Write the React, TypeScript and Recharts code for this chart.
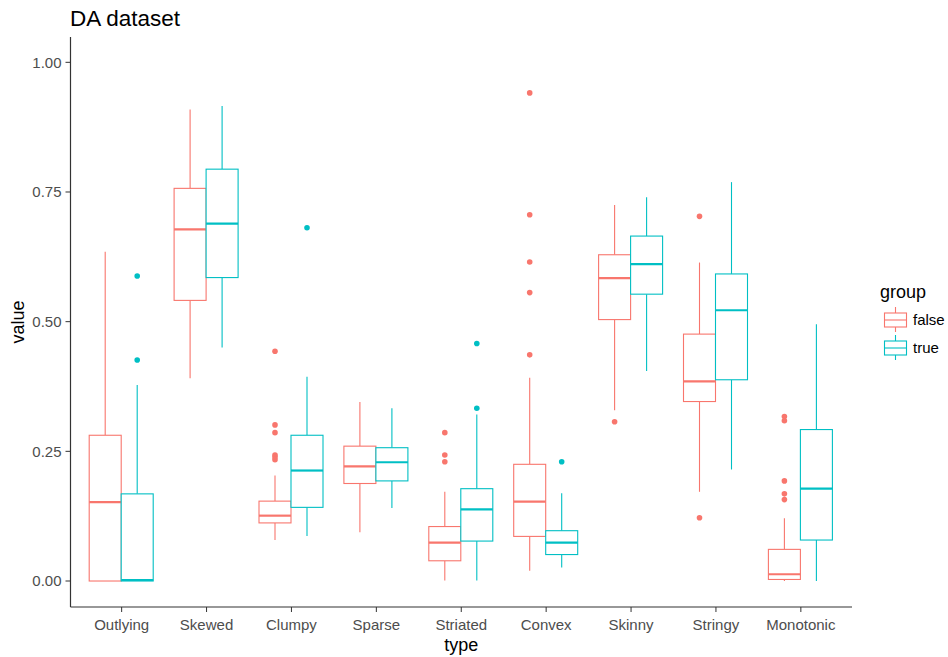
import { BarChart, Bar, XAxis, YAxis } from 'recharts';

const FONT = '"Liberation Sans", Arial, sans-serif';
const RED = '#F8766D';
const TEAL = '#00BFC4';

const categories = ['Outlying', 'Skewed', 'Clumpy', 'Sparse', 'Striated', 'Convex', 'Skinny', 'Stringy', 'Monotonic'];
const yTicks = [0, 0.25, 0.5, 0.75, 1];

// group = false
const falseLow = [0, 0.391, 0.079, 0.094, 0.001, 0.02, 0.329, 0.172, 0];
const falseQ1 = [0, 0.541, 0.112, 0.188, 0.039, 0.086, 0.504, 0.346, 0.003];
const falseMed = [0.152, 0.678, 0.126, 0.221, 0.074, 0.153, 0.584, 0.385, 0.013];
const falseQ3 = [0.281, 0.757, 0.154, 0.26, 0.105, 0.225, 0.629, 0.476, 0.061];
const falseHigh = [0.635, 0.909, 0.2035, 0.345, 0.172, 0.392, 0.725, 0.614, 0.121];
const falseOut = [
  [],
  [],
  [0.443, 0.301, 0.286, 0.243, 0.239, 0.234],
  [],
  [0.286, 0.243, 0.23],
  [0.941, 0.706, 0.615, 0.556, 0.436],
  [0.307],
  [0.703, 0.122],
  [0.317, 0.309, 0.193, 0.168, 0.157],
];

// group = true
const trueLow = [0, 0.45, 0.087, 0.141, 0.001, 0.026, 0.405, 0.215, 0];
const trueQ1 = [0, 0.585, 0.142, 0.193, 0.077, 0.051, 0.553, 0.388, 0.079];
const trueMed = [0.002, 0.689, 0.213, 0.229, 0.138, 0.074, 0.611, 0.522, 0.178];
const trueQ3 = [0.168, 0.794, 0.281, 0.257, 0.178, 0.097, 0.665, 0.592, 0.292];
const trueHigh = [0.378, 0.916, 0.394, 0.333, 0.321, 0.169, 0.74, 0.769, 0.495];
const trueOut = [[0.588, 0.426], [], [0.681], [], [0.458, 0.333], [0.23], [], [], []];

const rows = categories.map((type, i) => ({
  type,
  idx: i,
  f: [falseQ1[i], falseQ3[i]],
  t: [trueQ1[i], trueQ3[i]],
}));

type Stats = { low: number[]; q1: number[]; med: number[]; q3: number[]; high: number[]; out: number[][] };

const falseStats: Stats = { low: falseLow, q1: falseQ1, med: falseMed, q3: falseQ3, high: falseHigh, out: falseOut };
const trueStats: Stats = { low: trueLow, q1: trueQ1, med: trueMed, q3: trueQ3, high: trueHigh, out: trueOut };

// the bar gives the box (q1..q3); everything else is placed on the same linear scale
function boxShape(s: Stats, color: string) {
  return (props: any) => {
    const { x, y, width, height, payload } = props;
    const i = payload.idx;
    const top = Math.min(y, y + height);
    const h = Math.abs(height);
    const k = h / (s.q3[i] - s.q1[i]);
    const py = (v: number) => top + h - (v - s.q1[i]) * k;
    const cx = x + width / 2;
    return (
      <g>
        <line x1={cx} x2={cx} y1={py(s.q3[i])} y2={py(s.high[i])} stroke={color} strokeWidth={1.1} />
        <line x1={cx} x2={cx} y1={py(s.q1[i])} y2={py(s.low[i])} stroke={color} strokeWidth={1.1} />
        <rect x={x} y={top} width={width} height={h} fill="#fff" stroke={color} strokeWidth={1.1} />
        <line x1={x} x2={x + width} y1={py(s.med[i])} y2={py(s.med[i])} stroke={color} strokeWidth={2.2} />
        {s.out[i].map((v, j) => (
          <circle key={j} cx={cx} cy={py(v)} r={2.8} fill={color} />
        ))}
      </g>
    );
  };
}

function LegendKey({ y, color, label }: { y: number; color: string; label: string }) {
  return (
    <g>
      <line x1={895.5} x2={895.5} y1={y - 13} y2={y + 12} stroke={color} strokeWidth={1.1} />
      <rect x={884.5} y={y - 7} width={22} height={14} fill="#fff" stroke={color} strokeWidth={1.1} />
      <line x1={884.5} x2={906.5} y1={y} y2={y} stroke={color} strokeWidth={1.1} />
      <text x={913} y={y + 5} fontSize={15} fill="#000" fontFamily={FONT}>
        {label}
      </text>
    </g>
  );
}

export default function App() {
  return (
    <div style={{ position: 'relative', width: 948, height: 657, background: '#fff' }}>
      <style>{'body{margin:0}'}</style>
      <BarChart
        width={948}
        height={657}
        data={rows}
        margin={{ top: 37, right: 96, bottom: 0, left: 0 }}
        barGap={0}
      >
        <XAxis
          dataKey="type"
          height={50}
          padding={{ left: 8.7, right: 8.7 }}
          tick={{ fill: '#4d4d4d', fontSize: 15, fontFamily: FONT }}
          tickSize={5}
          tickMargin={7}
          tickLine={{ stroke: '#333' }}
          axisLine={{ stroke: '#333', strokeWidth: 1.2 }}
          label={{
            content: (p: any) => (
              <text
                x={p.viewBox.x + p.viewBox.width / 2}
                y={p.viewBox.y + 44}
                textAnchor="middle"
                fontSize={18}
                fontFamily={FONT}
                fill="#000"
              >
                type
              </text>
            ),
          }}
        />
        <YAxis
          type="number"
          width={70.5}
          domain={[-0.0501, 1.0488]}
          ticks={yTicks}
          allowDataOverflow
          tickFormatter={(v: number) => v.toFixed(2)}
          tick={{ fill: '#4d4d4d', fontSize: 15, fontFamily: FONT }}
          tickSize={5}
          tickMargin={4}
          tickLine={{ stroke: '#333' }}
          axisLine={{ stroke: '#333', strokeWidth: 1.2 }}
          label={{
            content: (p: any) => {
              const cy = p.viewBox.y + p.viewBox.height / 2;
              return (
                <text
                  x={24}
                  y={cy}
                  transform={`rotate(-90 24 ${cy})`}
                  textAnchor="middle"
                  fontSize={18}
                  fontFamily={FONT}
                  fill="#000"
                >
                  value
                </text>
              );
            },
          }}
        />
        <Bar dataKey="f" barSize={32} shape={boxShape(falseStats, RED)} isAnimationActive={false} />
        <Bar dataKey="t" barSize={32} shape={boxShape(trueStats, TEAL)} isAnimationActive={false} />
      </BarChart>
      <svg width={948} height={657} style={{ position: 'absolute', left: 0, top: 0, pointerEvents: 'none' }}>
        <text x={70} y={26} fontSize={22.5} fontFamily={FONT} fill="#000">
          DA dataset
        </text>
        <text x={880} y={298} fontSize={18} fontFamily={FONT} fill="#000">
          group
        </text>
        <LegendKey y={320} color={RED} label="false" />
        <LegendKey y={348} color={TEAL} label="true" />
      </svg>
    </div>
  );
}
